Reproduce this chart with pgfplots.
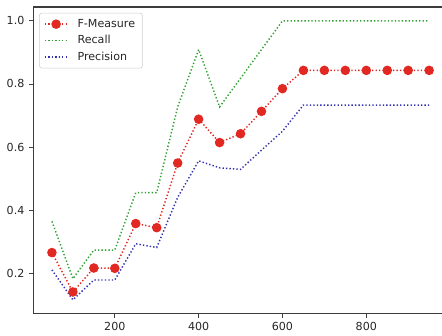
\documentclass[border=0pt]{standalone}
\usepackage{pgfplots}
\pgfplotsset{compat=1.18}
\usepackage{fontspec}
\setmainfont{DejaVu Sans}
\definecolor{cR}{RGB}{225,40,35}
\definecolor{cG}{RGB}{50,160,50}
\definecolor{cB}{RGB}{50,50,175}
\definecolor{frame}{RGB}{60,60,60}
\begin{document}
\begin{tikzpicture}
\begin{axis}[
  name=ax,
  scale only axis,
  width=310.5pt, height=229.5pt,
  xmin=5, xmax=995, ymin=0.071, ymax=1.044,
  xtick={200,400,600,800},
  ytick={0.2,0.4,0.6,0.8,1.0},
  yticklabel style={/pgf/number format/fixed,/pgf/number format/precision=1,/pgf/number format/fixed zerofill},
  /pgf/number format/assume math mode=true,
  ticklabel style={font=\fontsize{8.3}{10}\selectfont, text=black!85},
  tick style={frame, line width=0.6pt},
  tick align=outside, tickpos=left,
  major tick length=3pt,
  axis line style={frame, line width=0.8pt},
  legend style={at={(0.0145,0.981)}, anchor=north west, draw=black!20, rounded corners=2pt,
    font=\fontsize{8.3}{10}\selectfont, text=black!85, row sep=0.5pt, inner xsep=3.5pt, inner ysep=2.5pt,
    /tikz/every odd column/.append style={column sep=5pt}},
  legend cell align=left,
  legend image code/.code={\draw[mark repeat=2,mark phase=2,#1] plot coordinates {(0pt,0pt)(8.5pt,0pt)(17pt,0pt)};},
]
\addplot[cR, line width=1.1pt, dash pattern=on 1pt off 1.6pt, mark=*, mark size=3pt,
  mark options={solid, fill=cR, draw=cR}] coordinates {
(50,0.265)(100,0.140)(150,0.216)(200,0.215)(250,0.357)(300,0.344)(350,0.549)
(400,0.688)(450,0.614)(500,0.642)(550,0.713)(600,0.785)(650,0.843)(700,0.843)
(750,0.843)(800,0.843)(850,0.843)(900,0.843)(950,0.843)};
\addlegendentry{F-Measure}
\addplot[cG, line width=1.1pt, dash pattern=on 1pt off 1.6pt] coordinates {
(50,0.364)(100,0.182)(150,0.273)(200,0.273)(250,0.455)(300,0.455)(350,0.727)
(400,0.909)(450,0.727)(500,0.818)(550,0.909)(600,1.0)(650,1.0)(700,1.0)
(750,1.0)(800,1.0)(850,1.0)(900,1.0)(950,1.0)};
\addlegendentry{Recall}
\addplot[cB, line width=1.1pt, dash pattern=on 1pt off 1.6pt] coordinates {
(50,0.210)(100,0.115)(150,0.178)(200,0.178)(250,0.293)(300,0.281)(350,0.440)
(400,0.556)(450,0.534)(500,0.529)(550,0.590)(600,0.650)(650,0.733)(700,0.733)
(750,0.733)(800,0.733)(850,0.733)(900,0.733)(950,0.733)};
\addlegendentry{Precision}
\end{axis}
\pgfresetboundingbox
\useasboundingbox ([shift={(-24.75pt,-16.5pt)}]ax.south west) rectangle ([shift={(-4.5pt,5.25pt)}]ax.north east);
\end{tikzpicture}
\end{document}
